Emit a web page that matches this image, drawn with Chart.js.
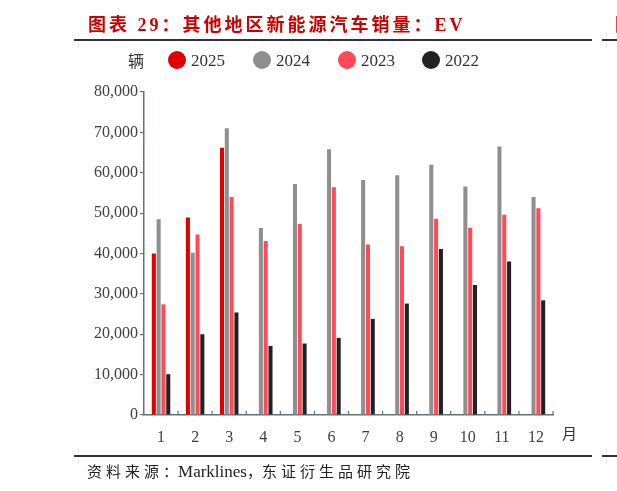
<!DOCTYPE html>
<html>
<head>
<meta charset="utf-8">
<script src="https://cdn.jsdelivr.net/npm/chart.js@4/dist/chart.umd.min.js"></script>
<style>
  html, body { margin: 0; padding: 0; background: #fff; width: 617px; height: 491px; overflow: hidden; }
  #wrap { position: relative; width: 617px; height: 491px; }
  canvas { position: absolute; left: 0; top: 0; }
  .abs { position: absolute; white-space: nowrap; }
  .title { left: 88px; top: 15px; font: bold 18px/20px 'Liberation Serif', 'Noto Sans CJK SC'; color: #cc0000; letter-spacing: 3px; }
  .rule { position: absolute; height: 1.5px; background: #333; }
  .unit { left: 128px; top: 51px; font: 16px/18px 'Noto Sans CJK SC'; color: #333; }
  .leg { top: 51px; font: 17px/20px 'Liberation Serif'; color: #333; }
  .leg i { display: inline-block; width: 18px; height: 18px; border-radius: 50%; vertical-align: -3px; margin-right: 5px; }
  .month { left: 562px; top: 424px; font: 15px/18px 'Noto Sans CJK SC'; color: #333; }
  .source { left: 87px; top: 462px; font: 15px/18px 'Noto Sans CJK SC'; color: #222; }
  .source .cjk { letter-spacing: 4px; }
  .source .lat { font: 17px/18px 'Liberation Serif'; }
</style>
</head>
<body>
<div id="wrap">
  <canvas id="evChart" width="617" height="491"></canvas>
  <div class="abs title">图表 29：其他地区新能源汽车销量：EV</div>
  <div class="abs title" style="left:615px;">图</div>
  <div class="rule" style="left:74px; width:518px; top:39px;"></div>
  <div class="rule" style="left:602px; width:15px; top:39px;"></div>
  <div class="abs unit">辆</div>
  <div id="legend"></div>
  <div class="abs month">月</div>
  <div class="rule" style="left:74px; width:518px; top:455px;"></div>
  <div class="rule" style="left:602px; width:15px; top:455px;"></div>
  <div class="abs source"><span class="cjk">资料来源</span>：<span class="lat">Marklines</span>，<span class="cjk">东证衍生品研究院</span></div>
</div>
<script>
// Данные: продажи EV по месяцам, шт.
const months = ['1', '2', '3', '4', '5', '6', '7', '8', '9', '10', '11', '12'];
const sales2025 = [40000, 48900, 66200, null, null, null, null, null, null, null, null, null];
const sales2024 = [48500, 40200, 71000, 46300, 57200, 65800, 58200, 59400, 62000, 56600, 66500, 54000];
const sales2023 = [27400, 44700, 54000, 43100, 47300, 56400, 42200, 41800, 48600, 46400, 49600, 51200];
const sales2022 = [10100, 20000, 25400, 17100, 17700, 19100, 23800, 27600, 41100, 32200, 38000, 28400];
const yTicks = [0, 10000, 20000, 30000, 40000, 50000, 60000, 70000, 80000];

const axisColor = '#5f7676';
const tickFont = { family: "'Liberation Serif'", size: 16 };

// Внутренние засечки на оси X между категориями
const innerTicks = {
    id: 'innerTicks',
    afterDraw(chart) {
        const { ctx, chartArea } = chart;
        const x = chart.scales.x;
        const half = (x.getPixelForValue(1) - x.getPixelForValue(0)) / 2;
        ctx.save();
        ctx.strokeStyle = axisColor;
        ctx.lineWidth = 1.2;
        for (let i = 0; i < months.length; i++) {
            const px = x.getPixelForValue(i) + half;
            ctx.beginPath();
            ctx.moveTo(px, chartArea.bottom);
            ctx.lineTo(px, chartArea.bottom - 4);
            ctx.stroke();
        }
        ctx.restore();
    }
};

const chart = new Chart(document.getElementById('evChart'), {
    type: 'bar',
    data: {
        labels: months,
        datasets: [
            { label: '2025', data: sales2025, backgroundColor: '#e10000' },
            { label: '2024', data: sales2024, backgroundColor: '#8f8f8f' },
            { label: '2023', data: sales2023, backgroundColor: '#ff4a5a' },
            { label: '2022', data: sales2022, backgroundColor: '#222222' }
        ]
    },
    options: {
        responsive: false,
        animation: false,
        devicePixelRatio: 1,
        categoryPercentage: 0.565,
        barPercentage: 0.84,
        layout: { padding: { left: 0, right: 64, top: 92, bottom: 46 } },
        plugins: {
            legend: { display: false },
            tooltip: { enabled: false }
        },
        scales: {
            x: {
                afterFit: s => { s.height = 30; },
                grid: { drawOnChartArea: false, drawTicks: false },
                border: { color: axisColor, width: 1.5 },
                ticks: { color: '#404040', font: tickFont, padding: 13, maxRotation: 0 }
            },
            y: {
                min: 0,
                max: 80000,
                afterFit: s => { s.width = 144; },
                afterBuildTicks: s => { s.ticks = yTicks.map(v => ({ value: v })); },
                grid: { drawOnChartArea: false, drawTicks: true, tickLength: 4, color: axisColor, lineWidth: 1.2 },
                border: { color: axisColor, width: 1.5 },
                ticks: {
                    color: '#404040',
                    font: tickFont,
                    padding: 2,
                    callback: v => v.toLocaleString('en-US')
                }
            }
        }
    },
    plugins: [innerTicks]
});

// Легенда в одну строку
const legendX = [168, 253, 338, 422];
const legendBox = document.getElementById('legend');
chart.data.datasets.forEach((ds, i) => {
    const item = document.createElement('div');
    item.className = 'abs leg';
    item.style.left = legendX[i] + 'px';
    item.innerHTML = '<i style="background:' + ds.backgroundColor + '"></i>' + ds.label;
    legendBox.appendChild(item);
});
</script>
</body>
</html>
